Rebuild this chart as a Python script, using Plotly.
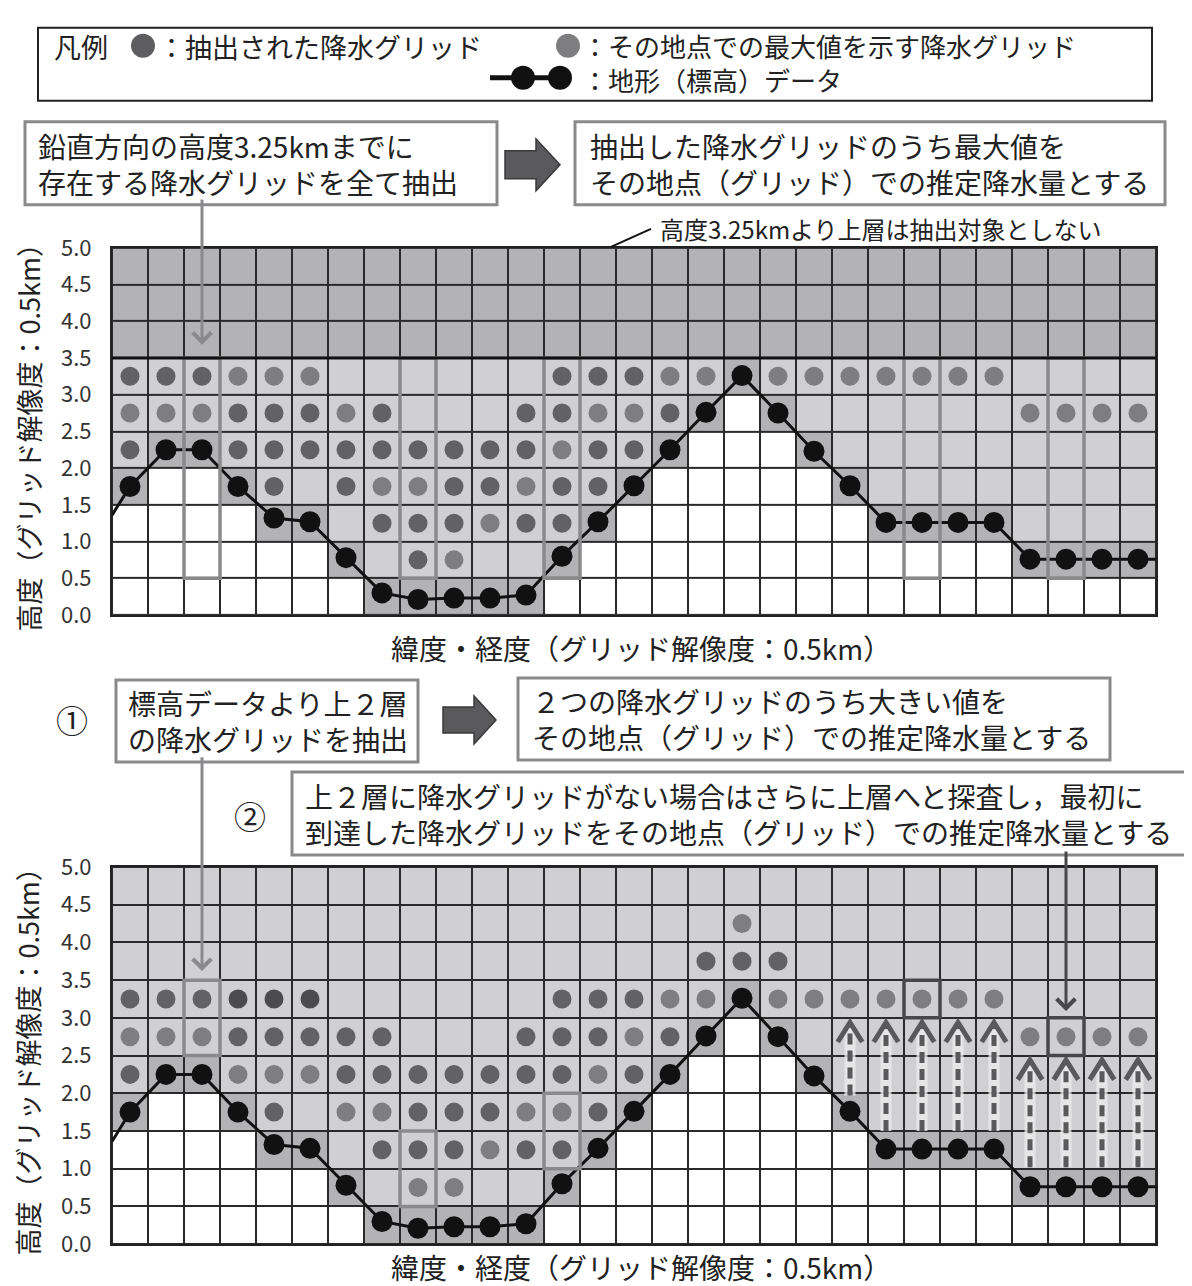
import plotly.graph_objects as go

# the page keeps the browser's 8px body margin; the photographed page also
# comes out slightly squeezed vertically, so positions below are given in
# picture pixels and converted with px()/py()
OFF = 8
W, H = 1192 - 2 * OFF, 1292
Y_SHIFT, Y_SCALE = 18.4, 0.975
FONT = "Noto Sans CJK JP"

# ---- data -------------------------------------------------------------
cols = list(range(29))
row_centers = [0.25 + 0.5 * r for r in range(10)]
y_ticks = [0.5 * i for i in range(11)]
y_ticktext = ["%.1f" % v for v in y_ticks]

# terrain (elevation) at each grid column, plus where the line meets the frame
terrain = [1.75, 2.25, 2.25, 1.75, 1.32, 1.27, 0.78, 0.30, 0.21, 0.23, 0.23, 0.27,
           0.80, 1.27, 1.76, 2.25, 2.76, 3.26, 2.75, 2.23, 1.76, 1.26, 1.26, 1.26,
           1.26, 0.76, 0.76, 0.76, 0.76]
terrain_left = 1.36
terrain_right = 0.76

# precipitation grids, one string per row (bottom -> top), d/l/k = shade
p1_dot_rows = [
    ".............................",
    "........dl...................",
    ".......dddldd................",
    "....d.dllddldd...............",
    "d..dddddddddldd..............",
    "llldddld...ddlld.........llll",
    "dddlll......dddll.lllllll....",
    ".............................",
    ".............................",
    ".............................",
]
p2_dot_rows = [
    ".............................",
    "........ll...................",
    ".......dddldd................",
    "....d.lldddlld...............",
    "d..llldddddddld..............",
    "lllddddd...dddld.........llll",
    "dddkkk......dddll.lllllll....",
    "................ddd..........",
    ".................l...........",
    ".............................",
]
dot_colors = {"d": "#626264", "l": "#7e7e80", "k": "#4b4b4d"}

# highlighted columns: (column, bottom, top)
p1_boxes = [(2, 0.5, 3.5), (8, 0.5, 3.5), (12, 0.5, 3.5), (22, 0.5, 3.5), (26, 0.5, 3.5)]
p2_boxes = [(2, 2.5, 3.5), (8, 0.5, 1.5), (12, 1.0, 2.0)]
p2_pick_boxes = [(22, 3.0, 3.5), (26, 2.5, 3.0)]

# upward search arrows in panel 2
arrow_cols = [20, 21, 22, 23, 24, 25, 26, 27, 28]
arrow_start = [1.97, 1.5, 1.5, 1.5, 1.5, 1.02, 1.02, 1.02, 1.02]
arrow_end = [2.94, 2.94, 2.94, 2.94, 2.94, 2.44, 2.44, 2.44, 2.44]


def px(x):
    return (x - OFF) / W


def py(y):
    return 1 - ((y - Y_SHIFT) / Y_SCALE - OFF) / H


def cell_classes(top_blocked):
    z = []
    for r in range(10):
        lo, hi = 0.5 * r, 0.5 * r + 0.5
        row = []
        for t in terrain:
            if hi <= t:
                row.append(0)
            elif lo <= t:
                row.append(2)
            elif top_blocked and r >= 7:
                row.append(2)
            else:
                row.append(1)
        z.append(row)
    return z


fig = go.Figure()


def add_panel(xa, ya, top_blocked, dot_rows):
    fig.add_trace(go.Heatmap(
        x=cols, y=row_centers, z=cell_classes(top_blocked),
        zmin=0, zmax=2, showscale=False, xgap=2, ygap=2, hoverinfo="skip",
        colorscale=[[0, "#ffffff"], [0.5, "#d0d0d2"], [1, "#b3b3b6"]],
        xaxis=xa, yaxis=ya))
    for key, colr in dot_colors.items():
        xs, ys = [], []
        for r, s in enumerate(dot_rows):
            for c, ch in enumerate(s):
                if ch == key:
                    xs.append(c)
                    ys.append(row_centers[r])
        if xs:
            fig.add_trace(go.Scatter(
                x=xs, y=ys, mode="markers", hoverinfo="skip",
                marker=dict(size=19, color=colr), xaxis=xa, yaxis=ya))
    fig.add_trace(go.Scatter(
        x=[-0.5] + cols + [28.5], y=[terrain_left] + terrain + [terrain_right],
        mode="lines", line=dict(color="#111111", width=3), hoverinfo="skip",
        xaxis=xa, yaxis=ya))
    fig.add_trace(go.Scatter(
        x=cols, y=terrain, mode="markers", hoverinfo="skip",
        marker=dict(size=21, color="#111111"), xaxis=xa, yaxis=ya))


add_panel("x", "y", True, p1_dot_rows)

# panel 2 search arrows
ax_x, ax_y, hd_x, hd_y = [], [], [], []
for c, s, e in zip(arrow_cols, arrow_start, arrow_end):
    ax_x += [c, c, None]
    ax_y += [s, e - 0.05, None]
    hd_x += [c - 0.34, c, c + 0.34, None]
    hd_y += [e - 0.26, e, e - 0.26, None]
add_panel("x2", "y2", False, p2_dot_rows)
fig.add_trace(go.Scatter(x=ax_x, y=ax_y, mode="lines", hoverinfo="skip",
                         line=dict(color="rgba(238,238,238,0.75)", width=11),
                         xaxis="x2", yaxis="y2"))
fig.add_trace(go.Scatter(x=ax_x, y=ax_y, mode="lines", hoverinfo="skip",
                         line=dict(color="#59595b", width=5, dash="11px,6px"),
                         xaxis="x2", yaxis="y2"))
fig.add_trace(go.Scatter(x=hd_x, y=hd_y, mode="lines", hoverinfo="skip",
                         line=dict(color="#59595b", width=5),
                         xaxis="x2", yaxis="y2"))

shapes = []
for c, b, t in p1_boxes:
    shapes.append(dict(type="rect", xref="x", yref="y", x0=c - 0.5, x1=c + 0.5,
                       y0=b, y1=t, line=dict(color="#8a8a8c", width=3.5)))
for c, b, t in p2_boxes:
    shapes.append(dict(type="rect", xref="x2", yref="y2", x0=c - 0.5, x1=c + 0.5,
                       y0=b, y1=t, line=dict(color="#8a8a8c", width=3.5)))
for c, b, t in p2_pick_boxes:
    shapes.append(dict(type="rect", xref="x2", yref="y2", x0=c - 0.5, x1=c + 0.5,
                       y0=b, y1=t, line=dict(color="#48484a", width=3.5)))
# 3.5 km boundary in panel 1
shapes.append(dict(type="line", xref="x", yref="y", x0=-0.5, x1=28.5, y0=3.5, y1=3.5,
                   line=dict(color="#111111", width=3)))


def box(x0, y0, x1, y1, color="#8a8a8c", width=3):
    shapes.append(dict(type="rect", xref="paper", yref="paper",
                       x0=px(x0), x1=px(x1), y0=py(y1), y1=py(y0),
                       line=dict(color=color, width=width), fillcolor="white", layer="below"))


def block_arrow(x0, x1, yc, body, head, head_len):
    pts = [(x0, yc - body / 2), (x1 - head_len, yc - body / 2), (x1 - head_len, yc - head / 2),
           (x1, yc), (x1 - head_len, yc + head / 2), (x1 - head_len, yc + body / 2),
           (x0, yc + body / 2)]
    path = "M " + " L ".join("%.5f,%.5f" % (px(a), py(b)) for a, b in pts) + " Z"
    shapes.append(dict(type="path", xref="paper", yref="paper", path=path,
                       fillcolor="#5a5a5c", line=dict(color="#3a3a3a", width=1.5)))


# legend box and text boxes
box(38, 28, 1152, 101, color="#222222", width=2)
box(25, 122, 497, 205)
box(575, 122, 1165, 205)
box(116, 680, 418, 762)
box(518, 678, 1110, 760)
box(292, 772, 1188, 855)
block_arrow(505, 560, 165, 28, 52, 24)
block_arrow(443, 496, 720, 26, 48, 22)

# legend symbols
for cx, cy, colr in [(143, 46, "#5e5e60"), (568, 46, "#7e7e80"), (523, 78, "#111111"), (560, 78, "#111111")]:
    shapes.append(dict(type="circle", xref="paper", yref="paper",
                       x0=px(cx - 12), x1=px(cx + 12), y0=py(cy + 12), y1=py(cy - 12),
                       fillcolor=colr, line=dict(width=0)))
shapes.append(dict(type="line", xref="paper", yref="paper", x0=px(490), x1=px(560),
                   y0=py(78), y1=py(78), line=dict(color="#111111", width=5)))
# leader line for the 3.25 km note
shapes.append(dict(type="line", xref="paper", yref="paper", x0=px(611), x1=px(651),
                   y0=py(247), y1=py(229), line=dict(color="#111111", width=2)))

annotations = []


def text(x, y, s, size=28, anchor="left"):
    annotations.append(dict(x=px(x), y=py(y), xref="paper", yref="paper", text=s,
                            showarrow=False, xanchor=anchor, yanchor="middle", align="left",
                            font=dict(family=FONT, size=size, color="#222222")))


text(52, 47, "凡例", size=27)
text(156, 47, "：抽出された降水グリッド", size=27)
text(580, 63, "：その地点での最大値を示す降水グリッド<br>：地形（標高）データ", size=26)
text(36, 164, "鉛直方向の高度3.25kmまでに<br>存在する降水グリッドを全て抽出")
text(588, 164, "抽出した降水グリッドのうち最大値を<br>その地点（グリッド）での推定降水量とする")
text(658, 229, "高度3.25kmより上層は抽出対象としない", size=24)
text(641, 648, "緯度・経度（グリッド解像度：0.5km）", anchor="center")
text(72, 719, "①", size=32, anchor="center")
text(126, 721, "標高データより上２層<br>の降水グリッドを抽出")
text(530, 719, "２つの降水グリッドのうち大きい値を<br>その地点（グリッド）での推定降水量とする")
text(250, 815, "②", size=32, anchor="center")
text(303, 814, "上２層に降水グリッドがない場合はさらに上層へと探査し，最初に<br>到達した降水グリッドをその地点（グリッド）での推定降水量とする")
text(641, 1267, "緯度・経度（グリッド解像度：0.5km）", anchor="center")
for yc in [(248 + 615) / 2, (867 + 1244) / 2]:
    annotations.append(dict(x=px(28), y=py(yc), xref="paper", yref="paper",
                            text="高度（グリッド解像度：0.5km）", textangle=-90, showarrow=False,
                            xanchor="center", yanchor="middle",
                            font=dict(family=FONT, size=27, color="#222222")))

# pointer arrows from the text boxes (tail offsets in figure pixels)
for xr, yr, xv, yv, y_tail, y_tip in [("x", "y", 2, 3.68, 205, 348),
                                      ("x2", "y2", 2, 3.62, 762, 972),
                                      ("x2", "y2", 26, 3.09, 855, 1012)]:
    annotations.append(dict(x=xv, y=yv, xref=xr, yref=yr, ax=0,
                            ay=-(y_tip - y_tail) / Y_SCALE, text="",
                            showarrow=True, arrowhead=4, arrowsize=1.2, arrowwidth=3,
                            arrowcolor="#8a8a8c" if xv == 2 else "#48484a"))

axis_x = dict(range=[-0.5, 28.5], showticklabels=False, showgrid=False, zeroline=False,
              showline=True, mirror=True, linecolor="#222222", linewidth=2, fixedrange=True)
axis_y = dict(range=[0, 5], tickvals=y_ticks, ticktext=y_ticktext, showgrid=False,
              zeroline=False, showline=True, mirror=True, linecolor="#222222", linewidth=2,
              ticks="", ticklabelstandoff=14, fixedrange=True,
              tickfont=dict(family=FONT, size=22, color="#333333"))

fig.update_layout(
    width=W, height=H, margin=dict(l=0, r=0, t=0, b=0),
    paper_bgcolor="white", plot_bgcolor="#2a2a2a", showlegend=False,
    xaxis=dict(axis_x, domain=[px(112), px(1156)]),
    yaxis=dict(axis_y, domain=[py(615), py(248)]),
    xaxis2=dict(axis_x, domain=[px(112), px(1156)], anchor="y2"),
    yaxis2=dict(axis_y, domain=[py(1244), py(867)], anchor="x2"),
    shapes=shapes, annotations=annotations,
    font=dict(family=FONT),
)

fig.write_html("out.html")
